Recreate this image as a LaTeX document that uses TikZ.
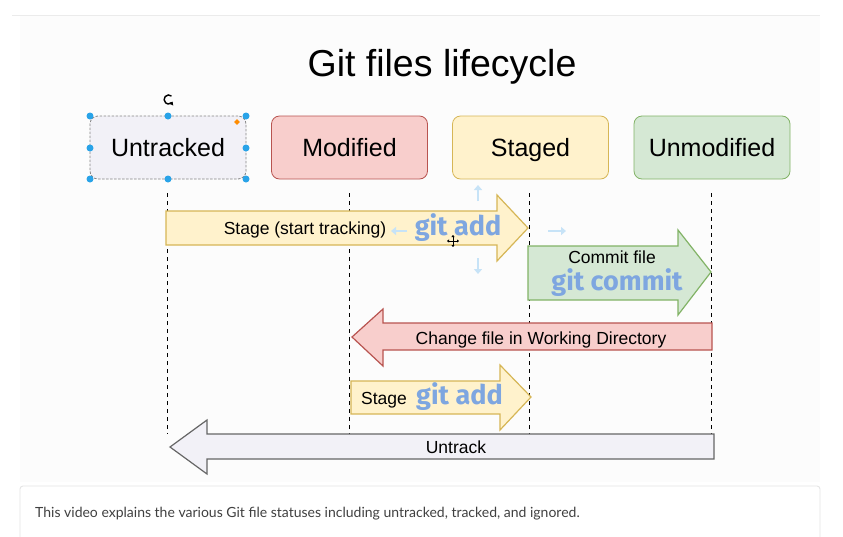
\documentclass[tikz,border=0pt]{standalone}
\usepackage{fontspec}
\setmainfont{Liberation Sans}
\newfontfamily\latofont{Lato}
\newfontfamily\gitfont{Fira Sans}
\usetikzlibrary{arrows.meta,shapes.geometric}
\definecolor{yfill}{HTML}{FFF2CC}\definecolor{ystroke}{HTML}{D6B656}
\definecolor{rfill}{HTML}{F8CECC}\definecolor{rstroke}{HTML}{B85450}
\definecolor{gfill}{HTML}{D5E8D4}\definecolor{gstroke}{HTML}{82B366}
\definecolor{ufill}{HTML}{F2F1F7}\definecolor{ustroke}{HTML}{666666}
\definecolor{gitblue}{HTML}{7EA6E0}
\definecolor{handle}{HTML}{29A3E8}
\definecolor{hover}{HTML}{C7E3F7}
\definecolor{pagebg}{HTML}{FCFCFC}
\tikzset{
  statebox/.style={draw, rounded corners=8pt, line width=0.8pt, minimum width=156pt, minimum height=63pt, font=\fontsize{25}{30}\selectfont, inner sep=0pt, text height=18pt, text depth=0pt},
  bigarrow/.style={line width=1.2pt, line join=miter},
  lbl/.style={font=\fontsize{17.5}{20}\selectfont, inner sep=0pt, text height=12.6pt, text depth=0pt},
  gitlbl/.style={font=\gitfont\bfseries\fontsize{27}{30}\selectfont, text=gitblue, inner sep=0pt, text height=19pt, text depth=0pt},
  lifeline/.style={dashed, dash pattern=on 4pt off 4pt, line width=0.9pt},
  hdl/.style={circle, fill=handle, inner sep=0pt, minimum size=7pt},
  hov/.style={draw=hover, line width=2.4pt, -{Triangle[length=5pt,width=8pt]}},
}
\begin{document}
\begin{tikzpicture}[x=1pt,y=-1pt]
\useasboundingbox (0,0) rectangle (843,536);
\fill[white] (0,0) rectangle (843,536);
\fill[pagebg] (20,16) rectangle (820,482);
\draw[black!8, line width=1pt] (12,15) -- (820,15);

% title
\node[font=\fontsize{37.5}{40}\selectfont] (title) at (442,67) {Git files lifecycle};

% state boxes
\node[statebox, fill=ufill, draw=ustroke!80, dashed, dash pattern=on 2.5pt off 1.5pt] (untr) at (168,147.5) {Untracked};
\node[statebox, fill=rfill, draw=rstroke] (modi) at (349.5,147.5) {Modified};
\node[statebox, fill=yfill, draw=ystroke] (stag) at (530.5,147.5) {Staged};
\node[statebox, fill=gfill, draw=gstroke] (unmo) at (712,147.5) {Unmodified};

% lifelines
\coordinate (l1a) at (167,193); \coordinate (l1b) at (167,434);
\coordinate (l2a) at (349,193); \coordinate (l2b) at (349,434);
\coordinate (l3a) at (529,193); \coordinate (l3b) at (529,434);
\coordinate (l4a) at (711,193); \coordinate (l4b) at (711,434);
\draw[lifeline] (l1a) -- (l1b);
\draw[lifeline] (l2a) -- (l2b);
\draw[lifeline] (l3a) -- (l3b);
\draw[lifeline] (l4a) -- (l4b);

% arrow 1: Stage (start tracking)
\draw[bigarrow, fill=yfill, draw=ystroke] (166,211) -- (497,211) -- (497,195) -- (528,228) -- (497,261) -- (497,245) -- (166,245) -- cycle;
\node[lbl] (a1t) at (305,228) {Stage (start tracking)};
\node[gitlbl] (a1g) at (458,226) {git add};

% arrow 2: Commit file
\draw[bigarrow, fill=gfill, draw=gstroke] (528,246) -- (678,246) -- (678,230) -- (711,272) -- (678,315) -- (678,300) -- (528,300) -- cycle;
\node[lbl] (a2t) at (612,257) {Commit file};
\node[gitlbl] (a2g) at (617,281) {git commit};

% arrow 3: Change file
\draw[bigarrow, fill=rfill, draw=rstroke] (712,323) -- (383,323) -- (383,309) -- (352,337) -- (383,366) -- (383,350) -- (712,350) -- cycle;
\node[lbl] (a3t) at (541,338) {Change file in Working Directory};

% arrow 4: Stage git add
\draw[bigarrow, fill=yfill, draw=ystroke] (351,381) -- (500,381) -- (500,365) -- (531,397) -- (500,430) -- (500,414) -- (351,414) -- cycle;
\node[lbl, anchor=west] (a4t) at (361,398) {Stage};
\node[gitlbl, anchor=west] (a4g) at (416,395) {git add};

% arrow 5: Untrack
\draw[bigarrow, fill=ufill, draw=ustroke] (714,434) -- (207,434) -- (207,420) -- (170,447) -- (207,474) -- (207,459) -- (714,459) -- cycle;
\node[lbl] (a5t) at (456,447) {Untrack};

% selection handles on Untracked
\node[hdl] (h1) at (90,116) {}; \node[hdl] (h2) at (168,116) {}; \node[hdl] (h3) at (246,116) {};
\node[hdl] (h4) at (90,148) {}; \node[hdl] (h5) at (246,148) {};
\node[hdl] (h6) at (90,179) {}; \node[hdl] (h7) at (168,179) {}; \node[hdl] (h8) at (246,179) {};
\node[diamond, fill=orange!90!yellow, inner sep=0pt, minimum size=6pt] (hd) at (237,122) {};
\draw[line width=1.4pt, -{Triangle[length=3pt,width=5pt]}] (171.5,96) arc (50:330:4.5pt);

% hover arrows around the selected arrow
\coordinate (hu0) at (478,201); \coordinate (hu1) at (478,185);
\coordinate (hd0) at (478,258); \coordinate (hd1) at (478,274);
\coordinate (hl0) at (407,231); \coordinate (hl1) at (391,231);
\coordinate (hr0) at (548,231); \coordinate (hr1) at (566,231);
\draw[hov] (hu0) -- (hu1);
\draw[hov] (hd0) -- (hd1);
\draw[hov] (hl0) -- (hl1);
\draw[hov] (hr0) -- (hr1);
% move cursor
\draw[line width=1pt, {Triangle[length=2pt,width=3pt]}-{Triangle[length=2pt,width=3pt]}] (447,241) -- (459,241);
\draw[line width=1pt, {Triangle[length=2pt,width=3pt]}-{Triangle[length=2pt,width=3pt]}] (453,235) -- (453,247);

% caption box
\draw[black!10, fill=white, line width=0.9pt, rounded corners=3pt] (20,545) -- (20,486) -- (820,486) -- (820,545);
\node[font=\latofont\fontsize{14}{16}\selectfont, text=black!75, anchor=west, inner sep=0pt] (cap) at (35,514) {This video explains the various Git file statuses including untracked, tracked, and ignored.};
\end{tikzpicture}
\end{document}
